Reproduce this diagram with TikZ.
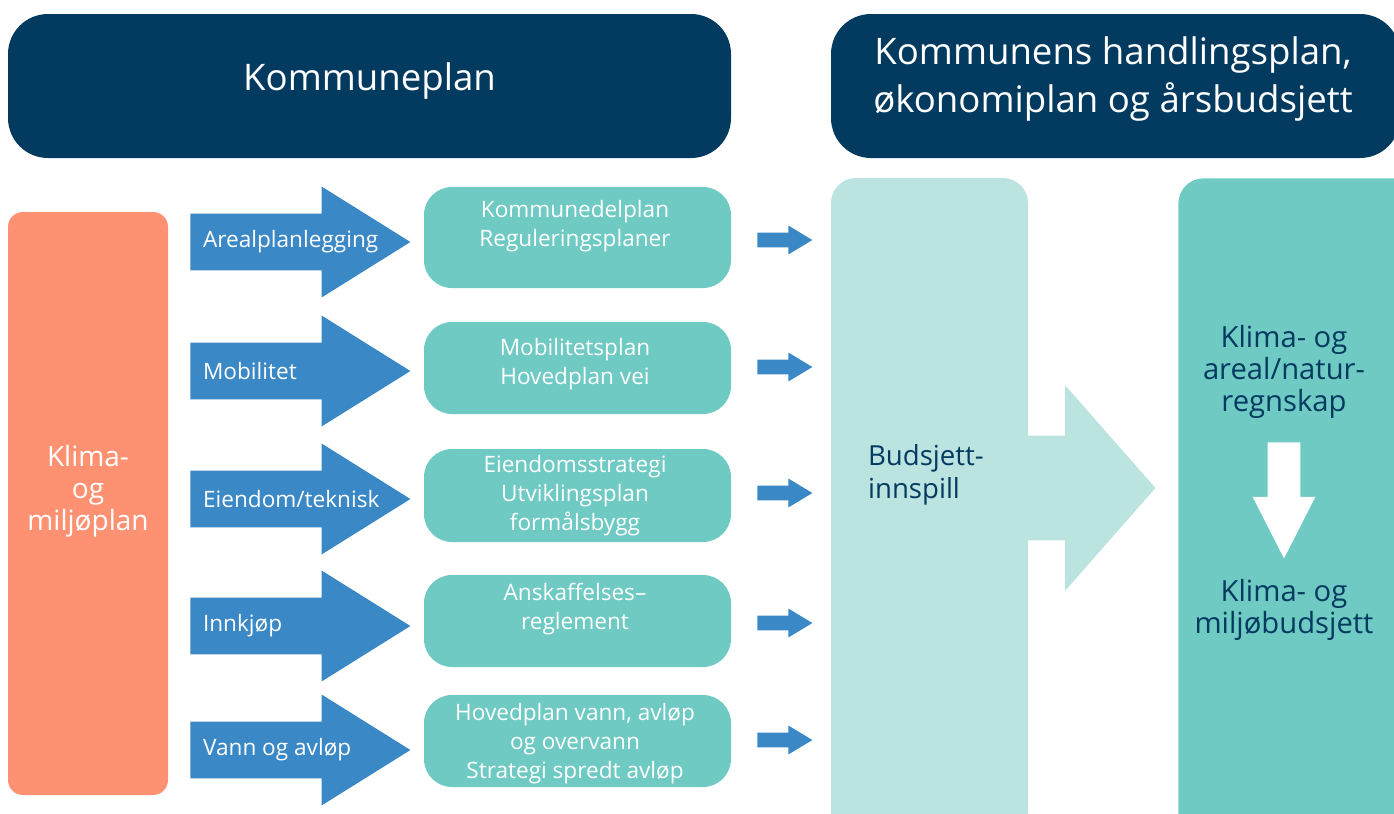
\documentclass[tikz,border=0pt]{standalone}
\usepackage{fontspec}
\setmainfont{Open Sans}
\usepackage{tikz}
\usetikzlibrary{shapes.arrows,positioning}

\definecolor{navy}{HTML}{033A5F}
\definecolor{coral}{HTML}{FF9173}
\definecolor{arrowblue}{HTML}{3B88C7}
\definecolor{teal1}{HTML}{6FCAC4}
\definecolor{teal2}{HTML}{BBE3DF}

\begin{document}
\begin{tikzpicture}[
            x=0.5pt, y=-0.5pt,
            header/.style={rectangle, rounded corners=20pt, fill=navy, inner sep=0, minimum height=72pt},
            headtext/.style={text=white, align=center, font=\fontsize{18.3}{24}\selectfont},
            planbox/.style={rectangle, rounded corners=14pt, fill=teal1, inner sep=0, minimum width=153.5pt},
            plantext/.style={text=white, align=center, font=\fontsize{11.3}{14.5}\selectfont},
            bigarrow/.style={single arrow, anchor=tail, draw=none},
            flowarrow/.style={bigarrow, fill=arrowblue, minimum height=110pt, inner sep=14pt,
                single arrow head extend=13.5pt, single arrow tip angle=64},
            smallarrow/.style={bigarrow, fill=arrowblue, minimum height=27.5pt, inner sep=3.5pt,
                single arrow head extend=3.5pt, single arrow tip angle=62},
            flowlabel/.style={text=white, anchor=west, font=\fontsize{11.3}{13}\selectfont},
            navytext/.style={text=navy, align=center, font=\fontsize{14.6}{16}\selectfont}
        ]

        \useasboundingbox (0,0) rectangle (1394,814);

        % headers
        \node[header, minimum width=361.5pt] (kplan) at (369.5,86) {};
        \node[headtext] (kplan-txt) at (kplan.center) [yshift=2.5pt] {Kommuneplan};
        \node[header, minimum width=284.5pt] (hplan) at (1115.5,86) {};
        \node[headtext] (hplan-txt) at (1113,79) {Kommunens handlingsplan,\\økonomiplan og årsbudsjett};

        % left column
        \node[rectangle, rounded corners=7.5pt, fill=coral, minimum width=80pt, minimum height=291.5pt] (klima) at (88,503.5) {};
        \node[text=white, align=center, font=\fontsize{14}{16}\selectfont] (klima-txt) at (88,491) {Klima-\\og\\miljøplan};

        % blue arrows
        \node[flowarrow] (areal) at (190,242) {};
        \node[flowarrow] (mobil) at (190,371) {};
        \node[flowarrow] (eiendom) at (190,499) {};
        \node[flowarrow] (innkjop) at (190,626) {};
        \node[flowarrow] (vann) at (190,750) {};
        \node[flowlabel, right=3pt of areal.tail] (areal-txt) {Arealplanlegging};
        \node[flowlabel, right=3pt of mobil.tail] (mobil-txt) {Mobilitet};
        \node[flowlabel, right=3pt of eiendom.tail] (eiendom-txt) {Eiendom/teknisk};
        \node[flowlabel, right=3pt of innkjop.tail] (innkjop-txt) {Innkjøp};
        \node[flowlabel, right=3pt of vann.tail] (vann-txt) {Vann og avløp};

        % plan boxes
        \node[planbox, minimum height=50.5pt] (delplan) at (577.5,237.5) {};
        \node[planbox, minimum height=46pt] (mobplan) at (577.5,368) {};
        \node[planbox, minimum height=46.5pt] (eistrat) at (577.5,495.5) {};
        \node[planbox, minimum height=46pt] (anskaff) at (577.5,621) {};
        \node[planbox, minimum height=46pt] (hovedvann) at (577.5,741) {};
        \node[plantext] (delplan-txt) at (575,226) {Kommunedelplan\\Reguleringsplaner};
        \node[plantext] (mobplan-txt) at (575,364.5) {Mobilitetsplan\\Hovedplan vei};
        \node[plantext] (eistrat-txt) at (575,496) {Eiendomsstrategi\\Utviklingsplan\\formålsbygg};
        \node[plantext] (anskaff-txt) at (575,609.5) {Anskaffelses–\\reglement};
        \node[plantext] (hovedvann-txt) at (575,743.5) {Hovedplan vann, avløp\\og overvann\\Strategi spredt avløp};

        % small arrows
        \foreach \y [count=\i] in {240,367,493,623,740}
            \node[smallarrow] (pil\i) at (757,\y) {};

        % budget columns
        \node[rectangle, rounded corners=12.5pt, fill=teal2, minimum width=98.5pt, minimum height=330pt] (budsjett) at (929.5,508) {};
        \node[bigarrow, fill=teal2, minimum height=77.5pt, inner sep=26pt,
            single arrow head extend=25.25pt, single arrow tip angle=97.4] (innspill) at (1000,488) {};
        \node[text=navy, align=left, anchor=west, font=\fontsize{13.8}{16.5}\selectfont] (budsjett-txt) at (861,475) {Budsjett-\\innspill};

        \node[rectangle, rounded corners=12.5pt, fill=teal1, minimum width=121pt, minimum height=330pt, anchor=north west] (regnskap) at (1178,178) {};
        \node[navytext] (regnskap-txt) at (1284,372) {Klima- og\\areal/natur-\\regnskap};
        \node[bigarrow, fill=white, shape border rotate=270, minimum height=58pt, inner sep=8pt,
            single arrow head extend=7.5pt, single arrow tip angle=54] (ned) at (1284,442) {};
        \node[navytext] (miljo-txt) at (1284,610) {Klima- og\\miljøbudsjett};

    \end{tikzpicture}
\end{document}
